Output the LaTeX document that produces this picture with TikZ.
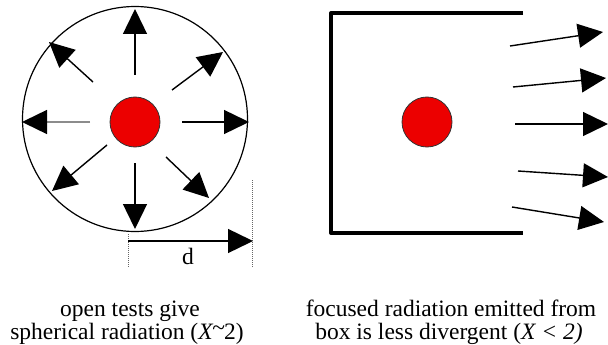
\documentclass[tikz,border=0pt]{standalone}
\usepackage{fontspec}
\setmainfont{Liberation Serif}
\usetikzlibrary{arrows.meta}
\definecolor{dotred}{RGB}{236,0,0}
\begin{document}
\begin{tikzpicture}[x=1pt,y=-1pt,
  ray/.style={line width=1.4pt,-{Triangle[length=25pt,width=24pt,color=black,fill=black]}},
  source/.style={circle,draw=black!80,line width=0.8pt,fill=dotred,minimum size=50pt,inner sep=0pt},
  caption/.style={anchor=base,font=\fontsize{23.5}{22}\selectfont,inner sep=0pt},
  guide/.style={densely dotted,line width=1pt,black!60}]
\useasboundingbox (0,0) rectangle (608,345);
% left: sphere
\node (sphere) [circle,draw,line width=1.2pt,minimum size=225pt,inner sep=0pt] at (135,119) {};
\node (srcA) [source] at (135,122) {};
\coordinate (u0) at (135,75);  \coordinate (u1) at (135,9);
\coordinate (ur0) at (172,90); \coordinate (ur1) at (223,52);
\coordinate (r0) at (182,122); \coordinate (r1) at (249,122);
\coordinate (dr0) at (166,157); \coordinate (dr1) at (209,198);
\coordinate (d0) at (135,163); \coordinate (d1) at (135,229);
\coordinate (dl0) at (107,145); \coordinate (dl1) at (52,191);
\coordinate (l0) at (90,122); \coordinate (l1) at (22,122);
\coordinate (ul0) at (93,82); \coordinate (ul1) at (49,42);
\draw[ray] (u0) -- (u1);
\draw[ray] (ur0) -- (ur1);
\draw[ray] (r0) -- (r1);
\draw[ray] (dr0) -- (dr1);
\draw[ray] (d0) -- (d1);
\draw[ray] (dl0) -- (dl1);
\draw[ray,draw=black!45] (l0) -- (l1);
\draw[ray] (ul0) -- (ul1);
% dimension d
\coordinate (g1a) at (128,234); \coordinate (g1b) at (128,268);
\coordinate (g2a) at (252,180); \coordinate (g2b) at (252,268);
\draw[guide] (g1a) -- (g1b);
\draw[guide] (g2a) -- (g2b);
\coordinate (da) at (128,241); \coordinate (db) at (253,241);
\draw[ray] (da) -- (db);
\node (dlabel) [font=\fontsize{23.5}{22}\selectfont,inner sep=0pt,anchor=base] at (188,264) {d};
% right: box
\coordinate (bt) at (523,13); \coordinate (btl) at (331,13);
\coordinate (bbl) at (331,233); \coordinate (bb) at (523,233);
\draw[line width=4pt,line join=round] (bt) -- (btl) -- (bbl) -- (bb);
\node (srcB) [source] at (427,122) {};
\coordinate (a1) at (510,46);  \coordinate (b1) at (603,32);
\coordinate (a2) at (513,87);  \coordinate (b2) at (606,78);
\coordinate (a3) at (515,124); \coordinate (b3) at (608,124);
\coordinate (a4) at (518,171); \coordinate (b4) at (608,177);
\coordinate (a5) at (512,207); \coordinate (b5) at (604,222);
\foreach \i in {1,...,5} \draw[ray] (a\i) -- (b\i);
% captions
\node (capA1) [caption] at (130,316) {open tests give};
\node (capA2) [caption] at (127,339) {spherical radiation (\textit{X}\kern-1pt\raisebox{0.3ex}{\~{}}\kern-1pt 2)};
\node (capB1) [caption] at (451,316) {focused radiation emitted from};
\node (capB2) [caption] at (449,339) {box is less divergent (\textit{X < 2)}};
\end{tikzpicture}
\end{document}
